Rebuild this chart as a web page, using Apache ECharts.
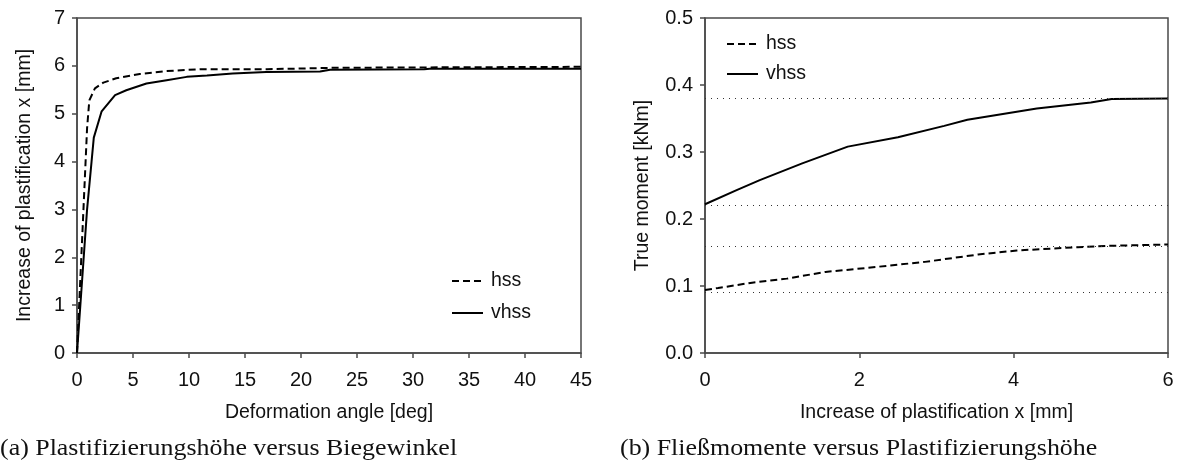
<!DOCTYPE html>
<html>
<head>
<meta charset="utf-8">
<script src="https://cdn.jsdelivr.net/npm/echarts@6/dist/echarts.min.js"></script>
<style>
html,body{margin:0;padding:0;background:#fff;}
#c{width:1178px;height:462px;}
</style>
</head>
<body>
<div id="c"></div>
<script>
// ---- (a) Plastification height vs bending angle ----
const angleHss = [0, 0.5, 0.9, 1.1, 1.6, 2.35, 3.5, 5.6, 8, 11, 17, 23, 34, 45];
const plastHss = [0, 2.6, 4.7, 5.28, 5.53, 5.65, 5.74, 5.83, 5.89, 5.93, 5.93, 5.96, 5.97, 5.98];
const angleVhss = [0, 0.6, 0.9, 1.3, 1.5, 2.2, 3.4, 4.4, 6.2, 8, 9.8, 11.6, 13.9, 16.9, 21.7, 22.6, 31, 31.5, 45];
const plastVhss = [0, 2, 3, 4, 4.5, 5.05, 5.39, 5.49, 5.63, 5.7, 5.77, 5.8, 5.84, 5.87, 5.88, 5.92, 5.93, 5.94, 5.94];

// ---- (b) True moment vs plastification ----
const xHss = [0, 0.17, 0.61, 1.06, 1.56, 2.1, 2.85, 3.54, 4.04, 4.83, 5.23, 6];
const mHss = [0.094, 0.097, 0.105, 0.111, 0.121, 0.127, 0.136, 0.147, 0.153, 0.158, 0.160, 0.162];
const xVhss = [0, 0.41, 0.71, 1.26, 1.85, 2.5, 3.1, 3.4, 4.3, 5.0, 5.27, 6];
const mVhss = [0.222, 0.243, 0.258, 0.283, 0.308, 0.322, 0.339, 0.348, 0.365, 0.374, 0.379, 0.380];
const refLevels = [0.380, 0.222, 0.162, 0.094];

const seriesNames = ['hss', 'vhss'];
const captionA = '(a) Plastifizierungshöhe versus Biegewinkel';
const captionB = '(b) Fließmomente versus Plastifizierungshöhe';

function zip(a, b) { return a.map((v, i) => [v, b[i]]); }

const axisColor = '#4a4a4a';
const sans = 'Liberation Sans';
const labelStyle = { color: '#111', fontFamily: sans, fontSize: 20 };
const nameStyle = { color: '#111', fontFamily: sans, fontSize: 19.5 };

function xAxisDef(idx, min, max, interval, name, fmt) {
  return {
    type: 'value', gridIndex: idx, min, max, interval,
    name, nameLocation: 'middle', nameGap: 50, nameTextStyle: nameStyle,
    axisLine: { show: true, lineStyle: { color: axisColor, width: 1.5 } },
    axisTick: { show: true, inside: false, length: 5, lineStyle: { color: axisColor, width: 1.5 } },
    axisLabel: Object.assign({ margin: 17, formatter: fmt }, labelStyle),
    splitLine: { show: false }
  };
}
function yAxisDef(idx, min, max, interval, name, gap, fmt) {
  return {
    type: 'value', gridIndex: idx, min, max, interval,
    name, nameLocation: 'middle', nameGap: gap, nameTextStyle: nameStyle,
    axisLine: { show: true, lineStyle: { color: axisColor, width: 1.5 } },
    axisTick: { show: true, inside: false, length: 5, lineStyle: { color: axisColor, width: 1.5 } },
    axisLabel: Object.assign({ margin: 12, formatter: fmt }, labelStyle),
    splitLine: { show: false }
  };
}

const solid = { color: '#000', width: 2, type: 'solid' };
const dashed = { color: '#000', width: 2, type: [7, 4] };

function legendDef(left, top, gap) {
  return {
    left, top, padding: 0, orient: 'vertical', itemWidth: 31, itemHeight: 14, itemGap: gap,
    textStyle: { color: '#111', fontFamily: sans, fontSize: 19.5, padding: [0, 0, 0, 3] },
    itemStyle: { opacity: 0 },
    data: seriesNames.slice(),
    selectedMode: false
  };
}

const chart = echarts.init(document.getElementById('c'), null, { renderer: 'canvas' });
chart.setOption({
  backgroundColor: '#fff',
  animation: false,
  grid: [
    { left: 77, right: 597, top: 18, bottom: 109, show: true, borderColor: axisColor, borderWidth: 1.5, backgroundColor: 'transparent' },
    { left: 705, right: 10, top: 18, bottom: 109, show: true, borderColor: axisColor, borderWidth: 1.5, backgroundColor: 'transparent' }
  ],
  xAxis: [
    xAxisDef(0, 0, 45, 5, 'Deformation angle [deg]'),
    xAxisDef(1, 0, 6, 2, 'Increase of plastification x [mm]')
  ],
  yAxis: [
    yAxisDef(0, 0, 7, 1, 'Increase of plastification x [mm]', 42, undefined),
    yAxisDef(1, 0, 0.5, 0.1, 'True moment [kNm]', 52, v => v.toFixed(1))
  ],
  legend: [
    legendDef(451, 271, 12),
    legendDef(726, 34, 10)
  ],
  graphic: [
    { type: 'text', left: 0, top: 437, scaleX: 1.08, style: { text: captionA, fontFamily: 'Liberation Serif', fontSize: 24, fill: '#111' } },
    { type: 'text', left: 620, top: 437, scaleX: 1.08, style: { text: captionB, fontFamily: 'Liberation Serif', fontSize: 24, fill: '#111' } }
  ],
  series: [
    { name: seriesNames[0], type: 'line', xAxisIndex: 0, yAxisIndex: 0, data: zip(angleHss, plastHss), showSymbol: false, symbol: 'none', lineStyle: dashed, itemStyle: { color: '#000' } },
    { name: seriesNames[1], type: 'line', xAxisIndex: 0, yAxisIndex: 0, data: zip(angleVhss, plastVhss), showSymbol: false, symbol: 'none', lineStyle: solid, itemStyle: { color: '#000' } },
    { name: seriesNames[0], type: 'line', xAxisIndex: 1, yAxisIndex: 1, data: zip(xHss, mHss), showSymbol: false, symbol: 'none', lineStyle: dashed, itemStyle: { color: '#000' } },
    { name: seriesNames[1], type: 'line', xAxisIndex: 1, yAxisIndex: 1, data: zip(xVhss, mVhss), showSymbol: false, symbol: 'none', lineStyle: solid, itemStyle: { color: '#000' },
      markLine: { silent: true, symbol: 'none', label: { show: false },
        lineStyle: { color: '#333', width: 1, type: [1, 5] },
        data: refLevels.map(v => ({ yAxis: v })) } }
  ]
});
</script>
</body>
</html>
